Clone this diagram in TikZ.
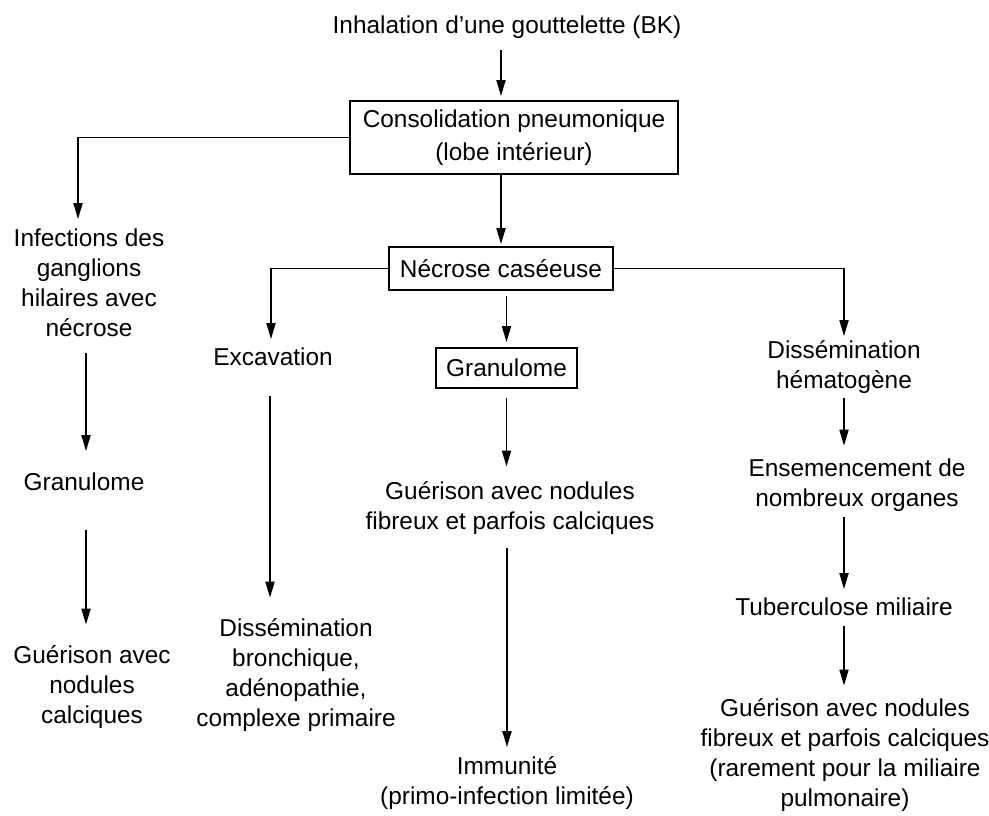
\documentclass[tikz,border=0pt]{standalone}
\usepackage{fontspec}
\setmainfont{Liberation Sans}
\usetikzlibrary{arrows.meta}

\begin{document}
\begin{tikzpicture}[x=0.5pt,y=-0.5pt,line width=0.9pt,
	txt/.style={align=center,inner sep=0pt,font=\fontsize{12.2}{15}\selectfont},
	boxed/.style={txt,draw},
	arr/.style={-{Triangle[length=8pt,width=4.5pt]}}]

\useasboundingbox (0,0) rectangle (989,815);

% Top: inhalation, consolidation, necrosis
\node[txt] (inh) at (507,27) {Inhalation d'une gouttelette (BK)};
\node[boxed, minimum width=164pt, minimum height=36.5pt] (cons) at (514,137.5)
	{Consolidation pneumonique\\[1.7pt](lobe intérieur)};
\node[boxed, minimum width=112pt, minimum height=21.5pt] (nec) at (501,268.5)
	{Nécrose caséeuse};

% Left column: hilar nodes
\node[txt] (inf) at (89,283) {Infections des\\ganglions\\hilaires avec\\nécrose};
\node[txt] (gran1) at (84,482) {Granulome};
\node[txt] (guer1) at (92,687) {Guérison avec\\nodules\\calciques};

% Excavation column
\node[txt] (exc) at (273,357) {Excavation};
\node[txt] (bron) at (296,675)
	{Dissémination\\bronchique,\\adénopathie,\\complexe primaire};

% Middle column
\node[boxed, minimum width=70.5pt, minimum height=20pt] (gra) at (506.5,368) {Granulome};
\node[txt] (guer2) at (510,508) {Guérison avec nodules\\fibreux et parfois calciques};
\node[txt] (imm) at (507,783.5) {Immunité\\(primo-infection limitée)};

% Right column: haematogenous spread
\node[txt] (diss) at (844,367.5) {Dissémination\\hématogène};
\node[txt] (ens) at (857,485) {Ensemencement de\\nombreux organes};
\node[txt] (tub) at (844,607) {Tuberculose miliaire};
\node[txt] (guer3) at (845,755)
	{Guérison avec nodules\\fibreux et parfois calciques\\(rarement pour la miliaire\\pulmonaire)};

% Connectors
\draw[arr, shorten <=5.5pt, shorten >=2pt] (inh.south -| nec) -- (cons.north -| nec);
\draw[arr, shorten >=1pt] (cons.south -| nec) -- (nec.north);
\draw[arr, shorten >=4.5pt] (cons.west) -| ([xshift=-5.5pt]inf.north);
\draw[arr, shorten >=4pt] (nec.west) -| ([xshift=-1pt]exc.north);
\draw[arr, shorten >=2pt] (nec.east) -| (diss.north);
\draw[arr, shorten <=2.5pt, shorten >=2.5pt] (nec.south -| gra) -- (gra.north);

\draw[arr, shorten <=4.5pt, shorten >=7pt] (gra.south) -- (gra.south |- guer2.north);
\draw[arr, shorten <=6.5pt, shorten >=4.5pt] (guer2.south -| imm) -- (imm.north);

\draw[arr, shorten <=7.5pt, shorten >=10.5pt] ([xshift=-1.5pt]inf.south) -- ([xshift=-1.5pt]inf.south |- gran1.north);
\draw[arr, shorten <=19pt, shorten >=10pt] ([xshift=1pt]gran1.south) -- ([xshift=1pt]gran1.south |- guer1.north);
\draw[arr, shorten <=14.5pt, shorten >=10pt] ([xshift=-1.5pt]exc.south) -- ([xshift=-1.5pt]exc.south |- bron.north);

\draw[arr, shorten <=1.5pt, shorten >=6pt] (diss.south) -- (diss.south |- ens.north);
\draw[arr, shorten <=2.5pt, shorten >=4pt] (ens.south -| tub) -- (tub.north);
\draw[arr, shorten <=4.5pt, shorten >=6pt] (tub.south) -- (tub.south |- guer3.north);

\end{tikzpicture}
\end{document}
